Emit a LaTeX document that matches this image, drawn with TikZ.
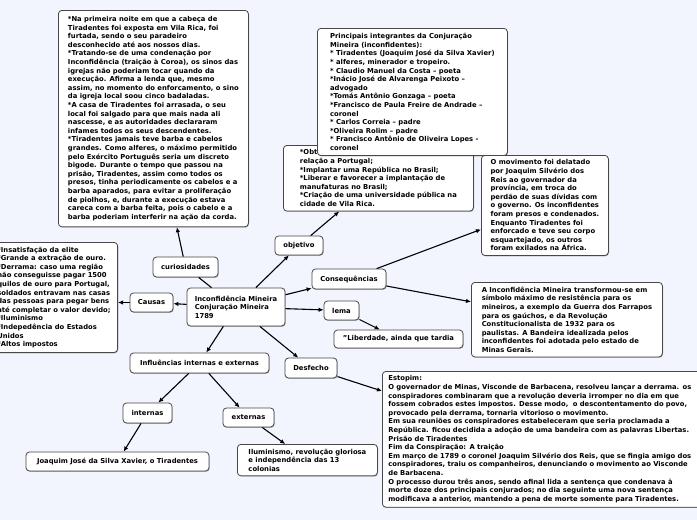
\documentclass[tikz,border=0pt]{standalone}
\usepackage{fontspec}
\setmainfont{DejaVu Sans}
\usetikzlibrary{arrows.meta, positioning, calc, shadows}

\definecolor{mapBg}{HTML}{F2F5FE}
\newcommand{\mapfont}{\fontsize{6.8}{8.6}\selectfont\bfseries}

\begin{document}
\begin{tikzpicture}[
        x=1pt, y=-1pt,
        topicBox/.style={
            draw=black!72,
            fill=white,
            rounded corners=3.5pt,
            line width=0.8pt,
            font=\mapfont,
            inner xsep=6pt,
            inner ysep=4pt,
            drop shadow={shadow xshift=0.6pt, shadow yshift=-0.8pt,
                fill=black, opacity=0.3}
        },
        noteBox/.style={
            topicBox,
            align=left,
            anchor=north west,
            inner xsep=7pt,
            inner ysep=4.4pt
        },
        link/.style={
            -{Latex[length=5pt,width=4.5pt]},
            line width=1.1pt
        },
        plainLink/.style={
            line width=1.1pt
        }
    ]

        % Page and background
        \useasboundingbox (0,0) rectangle (697,520);
        \fill[mapBg] (0,0) rectangle (697,520);
        \clip (0,0) rectangle (697,520);

        % Central topic
        \node[
            topicBox,
            align=left,
            minimum width=98pt,
            minimum height=38pt
        ] (conjuracao) at (236,307) {
            Inconfidência Mineira\\
            Conjuração Mineira\\
            1789
        };

        % Upper branches
        \node[
            topicBox,
            minimum width=65pt,
            minimum height=20pt
        ] (curiosidades) at (185.5,267) {curiosidades};

        \node[
            noteBox,
            minimum width=190pt,
            inner ysep=6pt
        ] (curiosText) at (58,10) {
            *Na primeira noite em que a cabeça de\\
            Tiradentes foi exposta em Vila Rica, foi\\
            furtada, sendo o seu paradeiro\\
            desconhecido até aos nossos dias.\\
            *Tratando-se de uma condenação por\\
            Inconfidência (traição à Coroa), os sinos das\\
            igrejas não poderiam tocar quando da\\
            execução. Afirma a lenda que, mesmo\\
            assim, no momento do enforcamento, o sino\\
            da igreja local soou cinco badaladas.\\
            *A casa de Tiradentes foi arrasada, o seu\\
            local foi salgado para que mais nada ali\\
            nascesse, e as autoridades declararam\\
            infames todos os seus descendentes.\\
            *Tiradentes jamais teve barba e cabelos\\
            grandes. Como alferes, o máximo permitido\\
            pelo Exército Português seria um discreto\\
            bigode. Durante o tempo que passou na\\
            prisão, Tiradentes, assim como todos os\\
            presos, tinha periodicamente os cabelos e a\\
            barba aparados, para evitar a proliferação\\
            de piolhos, e, durante a execução estava\\
            careca com a barba feita, pois o cabelo e a\\
            barba poderiam interferir na ação da corda.
        };

        \node[
            topicBox,
            minimum width=48pt,
            minimum height=19pt
        ] (objetivo) at (299,245.5) {objetivo};

        \node[
            noteBox,
            minimum width=190pt
        ] (objetivoText) at (283,145) {
            *Obter\\
            relação a Portugal;\\
            *Implantar uma República no Brasil;\\
            *Liberar e favorecer a implantação de\\
            manufaturas no Brasil;\\
            *Criação de uma universidade pública na\\
            cidade de Vila Rica.
        };

        \node[
            noteBox,
            minimum width=190pt,
            inner ysep=5pt
        ] (integrantes) at (317,28) {
            Principais integrantes da Conjuração\\
            Mineira (inconfidentes):\\
            * Tiradentes (Joaquim José da Silva Xavier)\\
            * alferes, minerador e tropeiro.\\
            * Claudio Manuel da Costa -- poeta\\
            *Inácio José de Alvarenga Peixoto --\\
            advogado\\
            *Tomás Antônio Gonzaga -- poeta\\
            *Francisco de Paula Freire de Andrade --\\
            coronel\\
            * Carlos Correia -- padre\\
            *Oliveira Rolim -- padre\\
            * Francisco Antônio de Oliveira Lopes -\\
            coronel
        };

        % Left branch
        \node[
            topicBox,
            minimum width=43pt,
            minimum height=19pt
        ] (causas) at (151.5,302.5) {Causas};

        \node[
            noteBox,
            anchor=north east
        ] (causasText) at (118,242) {
            *Insatisfação da elite\\
            *Grande a extração de ouro.\\
            *Derrama: caso uma região\\
            não conseguisse pagar 1500\\
            quilos de ouro para Portugal,\\
            soldados entravam nas casas\\
            das pessoas para pegar bens\\
            até completar o valor devido;\\
            *Iluminismo\\
            *Indepedência do Estados\\
            Unidos\\
            *Altos impostos
        };

        % Right branches
        \node[
            topicBox,
            minimum width=74pt,
            minimum height=20pt
        ] (consequencias) at (349,279) {Consequências};

        \node[
            noteBox,
            minimum width=127pt
        ] (delacaoText) at (481,155) {
            O movimento foi delatado\\
            por Joaquim Silvério dos\\
            Reis ao governador da\\
            província, em troca do\\
            perdão de suas dívidas com\\
            o governo. Os inconfidentes\\
            foram presos e condenados.\\
            Enquanto Tiradentes foi\\
            enforcado e teve seu corpo\\
            esquartejado, os outros\\
            foram exilados na África.
        };

        \node[
            noteBox,
            minimum width=191pt
        ] (simboloText) at (471,282) {
            A Inconfidência Mineira transformou-se em\\
            símbolo máximo de resistência para os\\
            mineiros, a exemplo da Guerra dos Farrapos\\
            para os gaúchos, e da Revolução\\
            Constitucionalista de 1932 para os\\
            paulistas. A Bandeira idealizada pelos\\
            inconfidentes foi adotada pelo estado de\\
            Minas Gerais.
        };

        \node[
            topicBox,
            minimum width=35pt,
            minimum height=19pt
        ] (lema) at (341.5,310.5) {lema};

        \node[
            topicBox,
            minimum width=129pt,
            minimum height=18pt
        ] (lemaText) at (398.5,339) {"Liberdade, ainda que tardia};

        % Lower branches
        \node[
            topicBox,
            minimum width=139pt,
            minimum height=20pt
        ] (influencias) at (199.5,363) {Influências internas e externas};

        \node[
            topicBox,
            minimum width=49pt,
            minimum height=20pt
        ] (internas) at (147.5,413) {internas};

        \node[
            topicBox,
            minimum width=51pt,
            minimum height=19pt
        ] (externas) at (248.5,417.5) {externas};

        \node[
            topicBox,
            minimum width=183pt,
            minimum height=19pt
        ] (tiradentes) at (117.5,461.5) {Joaquim José da Silva Xavier, o Tiradentes};

        \node[
            noteBox,
            minimum width=140pt
        ] (externasText) at (237,444) {
            Iluminismo, revolução gloriosa\\
            e independência das 13\\
            colonias
        };

        \node[
            topicBox,
            minimum width=52pt,
            minimum height=20pt
        ] (desfecho) at (311,368) {Desfecho};

        \node[
            noteBox,
            inner xsep=6pt,
            text width=318pt
        ] (estopimText) at (382,371) {
            Estopim:\\
            O governador de Minas, Visconde de Barbacena, resolveu lançar a derrama. os\\
            conspiradores combinaram que a revolução deveria irromper no dia em que\\
            fossem cobrados estes impostos. Desse modo,~ o descontentamento do povo,\\
            provocado pela derrama, tornaria vitorioso o movimento.\\
            Em sua reuniões os conspiradores estabeleceram que seria proclamada a\\
            República. ficou decidida a adoção de uma bandeira com as palavras Libertas.\\
            Prisão de Tiradentes\\
            Fim da Conspiração: A traição\\
            Em março de 1789 o coronel Joaquim Silvério dos Reis, que se fingia amigo dos\\
            conspiradores, traiu os companheiros, denunciando o movimento ao Visconde\\
            de Barbacena.\\
            O processo durou três anos, sendo afinal lida a sentença que condenava à\\
            morte doze dos principais conjurados; no dia seguinte uma nova sentença\\
            modificava a anterior, mantendo a pena de morte somente para Tiradentes.
        };
        \coordinate (estopimIn) at ([yshift=-20pt]estopimText.north west);

        % Connectors
        \draw[plainLink] (conjuracao) -- (curiosidades);
        \draw[link] (curiosidades) -- (curiosText);
        \draw[link] (conjuracao) -- (objetivo);
        \draw[link] (objetivo) -- (objetivoText);
        \draw[link] (conjuracao) -- (causas);
        \draw[link] (causas) -- (causas -| causasText.east);
        \draw[link] (conjuracao) -- (consequencias);
        \draw[link] (consequencias) -- (delacaoText);
        \draw[link] (consequencias) -- (simboloText);
        \draw[link] (conjuracao) -- (lema);
        \draw[link] (lema) -- (lemaText);
        \draw[link] (conjuracao) -- (influencias);
        \draw[link] (influencias) -- (internas);
        \draw[link] (influencias) -- (externas);
        \draw[link] (internas) -- (tiradentes);
        \draw[link] (externas) -- (externasText);
        \draw[link] (conjuracao) -- (desfecho);
        \draw[link] (desfecho) -- (estopimIn);

    \end{tikzpicture}
\end{document}
